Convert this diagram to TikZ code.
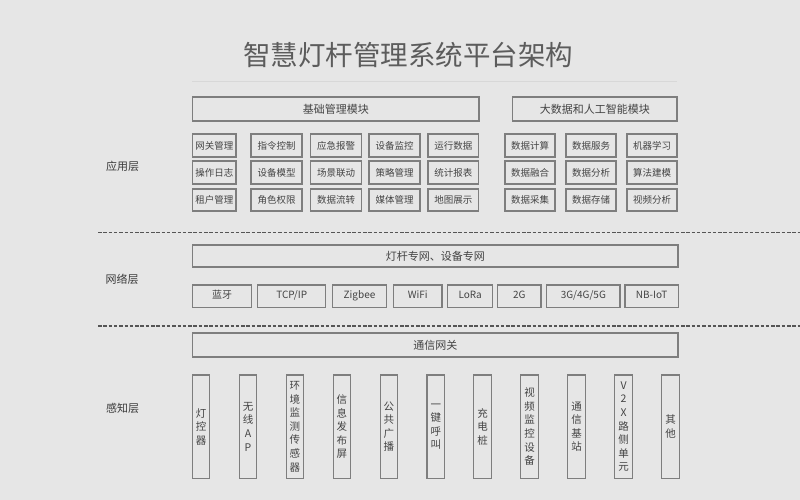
\documentclass[tikz,border=0pt]{standalone}
\usepackage{fontspec}
\setmainfont{Noto Sans CJK SC}
\definecolor{bg}{HTML}{E6E6E6}
\definecolor{boxline}{HTML}{7E7E7E}
\definecolor{boxtext}{HTML}{444444}
\definecolor{titletext}{HTML}{5C5C5C}
\definecolor{dashline}{HTML}{555555}
\definecolor{faint}{HTML}{D8D8D8}
\tikzset{
  box/.style={draw=boxline, line width=1.1pt, inner sep=0pt, text=boxtext, font=\fontsize{9.5}{11}\selectfont},
  hdrbox/.style={box, font=\fontsize{11}{13}\selectfont},
  protobox/.style={box, font=\fontsize{10}{12}\selectfont, text height=7.6pt, text depth=2pt},
  vbox/.style={box, align=center, font=\fontsize{10.5}{13.6}\selectfont},
  layerlabel/.style={text=boxtext!85!black, font=\fontsize{11}{13}\selectfont, inner sep=0pt},
  sepline/.style={draw=dashline, line width=1.8pt, dash pattern=on 3.5pt off 1.8pt},
}
\newcommand\bx[7][box]{\node[#1, minimum width={(#5)-(#3)}, minimum height={(#6)-(#4)}] (#2) at ({((#3)+(#5))/2},{((#4)+(#6))/2}) {#7};}
\begin{document}
\begin{tikzpicture}[x=1pt,y=-1pt]
\fill[bg] (0,0) rectangle (800,500);
\useasboundingbox (0,0) rectangle (800,500);
% title
\node[text=titletext, font=\fontsize{27.5}{30}\selectfont, inner sep=0pt] (title) at (408,55.5) {智慧灯杆管理系统平台架构};
\coordinate (fl) at (192,81.7); \coordinate (fr) at (677,81.7);
\draw[faint, line width=0.6pt] (fl) -- (fr);
% application layer
\bx[hdrbox]{hbase}{192.7}{97}{479}{121}{基础管理模块}
\bx[hdrbox]{hai}{512.7}{97}{677}{121}{大数据和人工智能模块}
% base grid
\bx{b11}{192.5}{134}{236}{157}{网关管理}
\bx{b12}{251}{134}{302}{157}{指令控制}
\bx{b13}{310.5}{134}{361.5}{157}{应急报警}
\bx{b14}{369}{134}{420}{157}{设备监控}
\bx{b15}{428}{134}{478.5}{157}{运行数据}
\bx{b21}{192.5}{161}{236}{184}{操作日志}
\bx{b22}{251}{161}{302}{184}{设备模型}
\bx{b23}{310.5}{161}{361.5}{184}{场景联动}
\bx{b24}{369}{161}{420}{184}{策略管理}
\bx{b25}{428}{161}{478.5}{184}{统计报表}
\bx{b31}{192.5}{189}{236}{211}{租户管理}
\bx{b32}{251}{189}{302}{211}{角色权限}
\bx{b33}{310.5}{189}{361.5}{211}{数据流转}
\bx{b34}{369}{189}{420}{211}{媒体管理}
\bx{b35}{428}{189}{478.5}{211}{地图展示}
% AI grid
\bx{c11}{505}{134}{555}{157}{数据计算}
\bx{c12}{566}{134}{616}{157}{数据服务}
\bx{c13}{627}{134}{677}{157}{机器学习}
\bx{c21}{505}{161}{555}{184}{数据融合}
\bx{c22}{566}{161}{616}{184}{数据分析}
\bx{c23}{627}{161}{677}{184}{算法建模}
\bx{c31}{505}{189}{555}{211}{数据采集}
\bx{c32}{566}{189}{616}{211}{数据存储}
\bx{c33}{627}{189}{677}{211}{视频分析}
\node[layerlabel] (lapp) at (122.5,166) {应用层};
% separator 1
\coordinate (s1l) at (98,232.5); \coordinate (s1r) at (800,232.5);
\draw[sepline] (s1l) -- (s1r);
% network layer
\bx[hdrbox]{hnet}{192.5}{245}{678}{267}{灯杆专网、设备专网}
\bx[protobox]{p1}{192.7}{285}{251.7}{307.3}{蓝牙}
\bx[protobox]{p2}{257.7}{285}{325.7}{307.3}{TCP/IP}
\bx[protobox]{p3}{332.3}{285}{386.7}{307.3}{Zigbee}
\bx[protobox]{p4}{393.3}{285}{442}{307.3}{WiFi}
\bx[protobox]{p5}{447.7}{285}{492.7}{307.3}{LoRa}
\bx[protobox]{p6}{497.7}{285}{541}{307.3}{2G}
\bx[protobox]{p7}{546.7}{285}{620}{307.3}{3G/4G/5G}
\bx[protobox]{p8}{625}{285}{678.3}{307.3}{NB-IoT}
\node[layerlabel] (lnet) at (122,279) {网络层};
% separator 2
\coordinate (s2l) at (98,326); \coordinate (s2r) at (800,326);
\draw[sepline] (s2l) -- (s2r);
% sensing layer
\bx[hdrbox]{hgw}{192.5}{333}{678}{357}{通信网关}
\foreach \t [count=\i from 0] in {灯\\控\\器, 无\\线\\A\\P, 环\\境\\监\\测\\传\\感\\器, 信\\息\\发\\布\\屏, 公\\共\\广\\播, 一\\键\\呼\\叫, 充\\电\\桩, 视\\频\\监\\控\\设\\备, 通\\信\\基\\站, V\\2\\X\\路\\侧\\单\\元, 其\\他}{
  \pgfmathsetmacro\xl{192.3+46.94*\i}
  \pgfmathsetmacro\xr{\xl+17.6}
  \bx[vbox]{d\i}{\xl}{375}{\xr}{478.3}{\t}
}
\node[layerlabel] (lsen) at (122.5,408) {感知层};
\end{tikzpicture}
\end{document}
